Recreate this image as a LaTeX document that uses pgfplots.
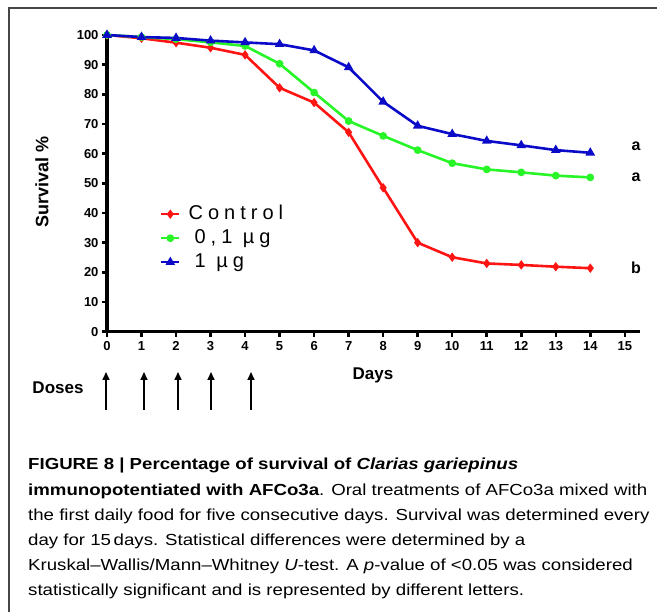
\documentclass[border=0pt]{standalone}
\usepackage{fontspec}
\setmainfont{Liberation Sans}
\newfontfamily\legfont[LetterSpace=25]{Liberation Sans}
\newfontfamily\capfont[FakeStretch=1.165]{Liberation Sans}
\usepackage{pgfplots}
\pgfplotsset{compat=1.18}
\usetikzlibrary{arrows.meta}
\definecolor{cred}{RGB}{255,20,20}
\definecolor{cgreen}{RGB}{40,245,40}
\definecolor{cblue}{RGB}{10,10,200}
\definecolor{frame}{RGB}{70,70,70}

\begin{document}
\begin{tikzpicture}[x=1pt,y=1pt]
\path[use as bounding box] (0,0) rectangle (657,612);
% frame of the figure panel
\draw[frame,line width=1.5pt] (9,0) -- (9,604) -- (657,604);

\begin{axis}[
  at={(107pt,280.3pt)}, anchor=south west,
  scale only axis, width=533pt, height=296.7pt,
  xmin=0, xmax=15.44, ymin=0, ymax=100,
  axis lines=left, axis line style={-, line width=3.5pt},
  xtick={0,...,15}, ytick={0,10,...,100},
  tick align=outside, major tick length=5pt,
  tick style={line width=2.5pt, black},
  ticklabel style={font=\bfseries\fontsize{13}{13}\selectfont},
  xticklabel style={yshift=-1.5pt},
  /pgf/number format/assume math mode=true,
  clip=false,
  legend style={at={(axis cs:1.53,42.7)}, anchor=north west, draw=none, fill=none,
    inner sep=0pt, row sep=6pt, font=\legfont\fontsize{20}{20}\selectfont,
    nodes={inner sep=0pt, text height=14pt, text depth=4pt}},
  legend cell align=left,
  legend image code/.code={\draw[mark repeat=2,mark phase=2] plot coordinates {(0pt,0pt) (9pt,0pt) (18pt,0pt)};},
]
\addplot[cred, line width=2.6pt, mark=diamond*, mark size=2.6pt, mark options={solid}] coordinates {
 (0,100) (1,98.9) (2,97.4) (3,95.7) (4,93.3) (5,82.2) (6,77.2) (7,67.2)
 (8,48.5) (9,30.0) (10,25.1) (11,23.0) (12,22.5) (13,21.9) (14,21.4)};
\addlegendentry{\hspace{8pt}Control}
\addplot[cgreen, line width=2.6pt, mark=*, mark size=2.5pt] coordinates {
 (0,100) (1,99.3) (2,98.6) (3,97.5) (4,96.3) (5,90.3) (6,80.6) (7,71.0)
 (8,66.0) (9,61.2) (10,56.8) (11,54.7) (12,53.7) (13,52.6) (14,52.0)};
\addlegendentry{\hspace{14pt}0,1 µg}
\addplot[cblue, line width=2.6pt, mark=triangle*, mark size=3pt] coordinates {
 (0,100) (1,99.3) (2,99.0) (3,98.1) (4,97.5) (5,96.9) (6,94.8) (7,89.1)
 (8,77.5) (9,69.4) (10,66.6) (11,64.3) (12,62.8) (13,61.2) (14,60.3)};
\addlegendentry{\hspace{14pt}1 µg}
\end{axis}

% significance letters
\node[font=\bfseries\fontsize{16}{16}\selectfont] at (636,612-146) {a};
\node[font=\bfseries\fontsize{16}{16}\selectfont] at (636,612-177) {a};
\node[font=\bfseries\fontsize{16}{16}\selectfont] at (636,612-268) {b};

% axis titles
\node[rotate=90, font=\bfseries\fontsize{18}{18}\selectfont] at (42,612-182) {Survival \%};
\node[font=\bfseries\fontsize{17}{17}\selectfont] at (373,612-375) {Days};
\node[font=\bfseries\fontsize{17}{17}\selectfont] at (58,612-388) {Doses};

% dose arrows
\foreach \xa in {106,144,178,211,251}
  \draw[line width=1.6pt, -{Triangle[length=8pt,width=7pt]}] (\xa,612-410) -- (\xa,612-372);

% caption
\begin{scope}[every node/.style={anchor=base west, inner sep=0pt, font=\capfont\fontsize{16}{16}\selectfont}]
\node at (28,612-470) {\bfseries FIGURE 8 | Percentage of survival of \itshape Clarias gariepinus};
\node at (28,612-495.7) {\textbf{immunopotentiated with AFCo3a}. Oral treatments of AFCo3a mixed with};
\node at (28,612-520.3) {the first daily food for five consecutive days. Survival was determined every};
\node at (28,612-545.7) {day for 15\,days. Statistical differences were determined by a};
\node at (28,612-571) {Kruskal–Wallis/Mann–Whitney \textit{U}-test. A \textit{p}-value of {<}0.05 was considered};
\node at (28,612-595.7) {statistically significant and is represented by different letters.};
\end{scope}
\end{tikzpicture}
\end{document}
